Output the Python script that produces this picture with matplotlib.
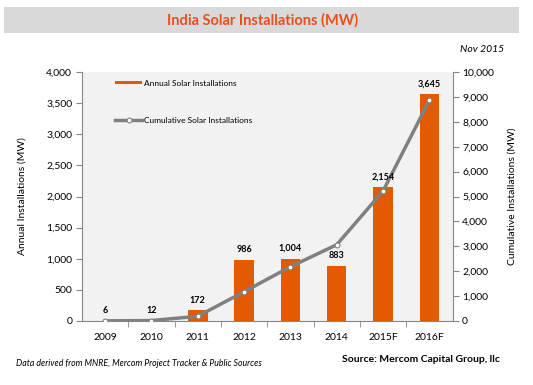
import matplotlib
matplotlib.use("Agg")
import matplotlib.pyplot as plt
from matplotlib.patches import Rectangle
from matplotlib.lines import Line2D
from matplotlib.ticker import FuncFormatter, MultipleLocator

years = ["2009", "2010", "2011", "2012", "2013", "2014", "2015F", "2016F"]
annual = [6, 12, 172, 986, 1004, 883, 2154, 3645]
cumulative = [6, 18, 190, 1176, 2180, 3063, 5217, 8862]

orange = "#E35A00"
gray_line = "#808080"
plt.rcParams["font.family"] = ["Lato", "DejaVu Sans"]

fig = plt.figure(figsize=(5.33, 3.85), dpi=100)
fig.patch.set_facecolor("white")

# title band
fig.patches.append(Rectangle((4 / 533, 1 - 33 / 385), 515 / 533, 26 / 385,
                             transform=fig.transFigure, facecolor="#D9D9D9",
                             edgecolor="none", zorder=0))
fig.text(0.492, 1 - 20 / 385, "India Solar Installations (MW)", ha="center",
         va="center", fontsize=10.5, fontweight="bold", color="#E8501E")
fig.text(0.945, 1 - 49 / 385, "Nov 2015", ha="right", va="center",
         fontsize=7.5, style="italic")

ax = fig.add_axes([82 / 533, 1 - 321 / 385, 370.5 / 533, 249 / 385])
ax.set_facecolor("#F2F2F2")
x = list(range(len(years)))
ax.bar(x, annual, width=0.42, color=orange, zorder=2)

ax.set_xlim(-0.5, len(years) - 0.5)
ax.set_ylim(0, 4000)
ax.yaxis.set_major_locator(MultipleLocator(500))
fmt = FuncFormatter(lambda v, p: f"{int(v):,}")
ax.yaxis.set_major_formatter(fmt)
ax.set_xticks(x)
ax.set_xticklabels(years)
ax.set_xticks([i + 0.5 for i in x[:-1]], minor=True)
ax.tick_params(axis="x", which="major", length=0, labelsize=7.5, pad=9)
ax.tick_params(axis="x", which="minor", length=4, color="#868686")
ax.tick_params(axis="y", length=4, color="#868686", labelsize=7.5, pad=3)
ax.set_ylabel("Annual Installations (MW)", fontsize=7.5, labelpad=14)
for s in ["top", "right"]:
    ax.spines[s].set_visible(False)
for s in ["left", "bottom"]:
    ax.spines[s].set_color("#868686")

ax2 = ax.twinx()
ax2.plot(x, cumulative, color=gray_line, lw=2.5, marker="o", ms=3.5,
         mfc="white", mec=gray_line, mew=0.8, zorder=3)
ax2.set_ylim(0, 10000)
ax2.yaxis.set_major_locator(MultipleLocator(1000))
ax2.yaxis.set_major_formatter(fmt)
ax2.tick_params(axis="y", length=4, color="#868686", labelsize=7.5, pad=3)
ax2.set_ylabel("Cumulative Installations (MW)", fontsize=7.5, labelpad=10)
for s in ["top", "left", "bottom"]:
    ax2.spines[s].set_visible(False)
ax2.spines["right"].set_color("#868686")

# data labels above bars, drawn over the line
for xi, v in zip(x, annual):
    ax2.text(xi, v + 90, f"{v:,}", transform=ax.transData, ha="center",
             va="bottom", fontsize=6.5, fontweight="bold", zorder=6)

handles = [Rectangle((0, 0), 1, 1, facecolor=orange, edgecolor="none"),
           Line2D([], [], color=gray_line, lw=2.5, marker="o", ms=3.5,
                  mfc="white", mec=gray_line, mew=0.8)]
ax2.legend(handles, ["Annual Solar Installations", "Cumulative Solar Installations"],
           loc="upper left", bbox_to_anchor=(0.07, 1.0), frameon=False,
           fontsize=6, labelspacing=3.6, handlelength=3.2, handleheight=0.35,
           handletextpad=0.2)

fig.text(0.03, 1 - 364 / 385, "Data derived from MNRE, Mercom Project Tracker & Public Sources",
         ha="left", va="center", fontsize=6.3, style="italic")
fig.text(0.937, 1 - 360 / 385, "Source: Mercom Capital Group, llc", ha="right",
         va="center", fontsize=7.5, fontweight="bold")

fig.savefig("out.png", dpi=100)
